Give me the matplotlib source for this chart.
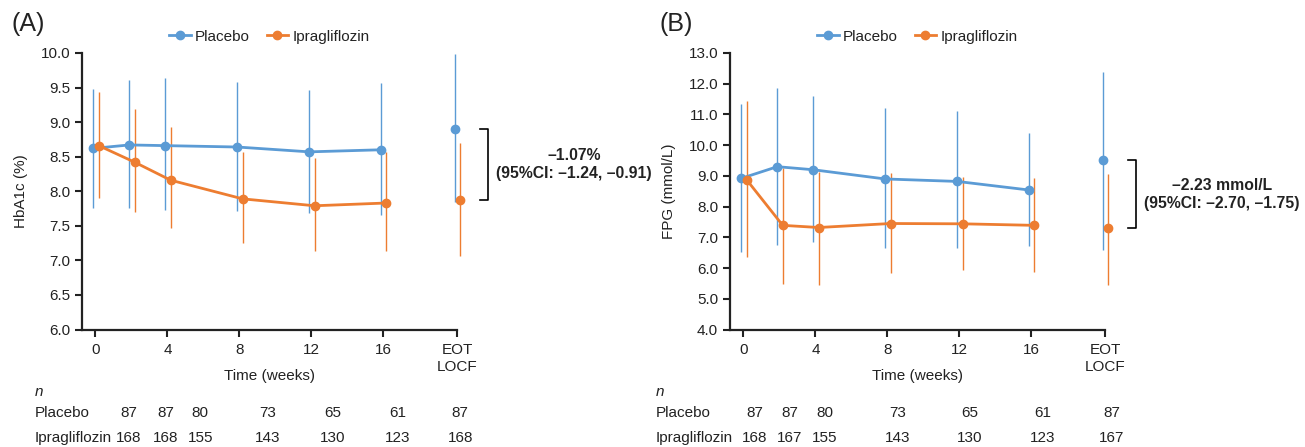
import matplotlib.pyplot as plt
from matplotlib.transforms import blended_transform_factory
import numpy as np

plt.rcParams['font.family'] = ['Liberation Sans', 'DejaVu Sans']

blue = '#5B9BD5'
orange = '#ED7D31'

# time points (EOT/LOCF plotted as an extra category after week 16)
time_labels = ['0', '4', '8', '12', '16', 'EOT\nLOCF']
visit_weeks = [0, 2, 4, 8, 12, 16]

# (A) HbA1c (%)
hba1c_pla = [8.62, 8.67, 8.66, 8.64, 8.57, 8.60, 8.90]
hba1c_pla_lo = [7.76, 7.76, 7.73, 7.72, 7.69, 7.66, 7.84]
hba1c_pla_hi = [9.48, 9.61, 9.64, 9.58, 9.47, 9.57, 9.98]
hba1c_ipr = [8.66, 8.42, 8.16, 7.89, 7.79, 7.83, 7.87]
hba1c_ipr_lo = [7.90, 7.70, 7.47, 7.25, 7.14, 7.14, 7.07]
hba1c_ipr_hi = [9.44, 9.19, 8.93, 8.57, 8.48, 8.57, 8.70]

# (B) FPG (mmol/L)
fpg_pla = [8.92, 9.30, 9.20, 8.90, 8.82, 8.54, 9.51]
fpg_pla_lo = [6.51, 6.76, 6.86, 6.64, 6.64, 6.73, 6.60]
fpg_pla_hi = [11.33, 11.85, 11.59, 11.20, 11.11, 10.39, 12.38]
fpg_ipr = [8.87, 7.39, 7.32, 7.45, 7.44, 7.39, 7.29]
fpg_ipr_lo = [6.35, 5.49, 5.46, 5.83, 5.93, 5.86, 5.46]
fpg_ipr_hi = [11.44, 9.25, 9.14, 9.09, 8.96, 8.93, 9.07]

# n at risk
n_pla_a = [87, 87, 80, 73, 65, 61, 87]
n_ipr_a = [168, 168, 155, 143, 130, 123, 168]
n_pla_b = [87, 87, 80, 73, 65, 61, 87]
n_ipr_b = [168, 167, 155, 143, 130, 123, 167]

diff_a = ['–1.07%', '(95%CI: –1.24, –0.91)']
diff_b = ['–2.23 mmol/L', '(95%CI: –2.70, –1.75)']

EOT_X = 20.1
xpos = np.array(visit_weeks + [EOT_X])
tick_pos = [0, 4, 8, 12, 16, EOT_X]

fig = plt.figure(figsize=(13.05, 4.47), dpi=100)
W, H = 1305, 447
axA = fig.add_axes([82 / W, 117.5 / H, 375 / W, 276.5 / H])
axB = fig.add_axes([730 / W, 117.5 / H, 375 / W, 276.5 / H])


def draw_panel(ax, pla, pla_lo, pla_hi, ipr, ipr_lo, ipr_hi, ylim, yticks, ylabel,
               letter, diff, n_pla, n_ipr, ncols_x, rowlab_x):
    xp = xpos - 0.12
    xi = xpos + 0.18
    ax.vlines(xp, pla_lo, pla_hi, color=blue, lw=1.0, clip_on=False, zorder=2)
    ax.vlines(xi, ipr_lo, ipr_hi, color=orange, lw=1.0, clip_on=False, zorder=2)
    ax.plot(xp[:6], pla[:6], '-o', color=blue, lw=2.0, ms=6, zorder=3,
            label='Placebo', clip_on=False)
    ax.plot(xi[:6], ipr[:6], '-o', color=orange, lw=2.0, ms=6, zorder=3,
            label='Ipragliflozin', clip_on=False)
    ax.plot(xp[6], pla[6], 'o', color=blue, ms=6, zorder=3, clip_on=False)
    ax.plot(xi[6], ipr[6], 'o', color=orange, ms=6, zorder=3, clip_on=False)

    ax.set_xlim(-0.75, EOT_X)
    ax.set_ylim(*ylim)
    ax.set_yticks(yticks)
    ax.set_yticklabels([f'{v:.1f}' for v in yticks])
    ax.set_xticks(tick_pos)
    ax.set_xticklabels(time_labels, linespacing=1.25)
    ax.tick_params(axis='both', labelsize=11, width=1.5, length=5, color='#222222',
                   labelcolor='#222222')
    ax.tick_params(axis='x', pad=5)
    for s in ['top', 'right']:
        ax.spines[s].set_visible(False)
    for s in ['left', 'bottom']:
        ax.spines[s].set_linewidth(1.6)
        ax.spines[s].set_color('#222222')

    ax.set_xlabel('Time (weeks)', fontsize=11, color='#222222')
    ax.xaxis.set_label_coords(0.5, -0.143)
    ax.xaxis.label.set_va('top')
    ax.set_ylabel(ylabel, fontsize=11, color='#222222', labelpad=9)

    ax.legend(loc='lower center', bbox_to_anchor=(0.5, 1.0), ncol=2, frameon=False,
              fontsize=11, handlelength=1.4, handletextpad=0.3, columnspacing=1.1,
              borderaxespad=0.2, labelcolor='#222222')

    ax.text(-0.187, 1.105, letter, transform=ax.transAxes, fontsize=18,
            color='#222222', va='center', ha='left')

    # bracket for treatment difference at EOT
    bx0, bx1 = 21.4, 21.85
    ax.plot([bx0, bx1, bx1, bx0], [pla[6], pla[6], ipr[6], ipr[6]],
            color='black', lw=1.2, clip_on=False)
    ymid = (pla[6] + ipr[6]) / 2
    ax.annotate(diff[0] + '\n' + diff[1], xy=(26.6, ymid), xycoords='data',
                ha='center', va='center', fontsize=11.3, fontweight='bold',
                color='#222222', linespacing=1.25, annotation_clip=False)

    # n table below the axis
    tr = blended_transform_factory(ax.transData, fig.transFigure)
    ax.text(rowlab_x, 1 - 392 / H, 'n', transform=tr, fontsize=11,
            style='italic', ha='left', va='center', color='#222222')
    ax.text(rowlab_x, 1 - 413 / H, 'Placebo', transform=tr, fontsize=11,
            ha='left', va='center', color='#222222')
    ax.text(rowlab_x, 1 - 438 / H, 'Ipragliflozin', transform=tr, fontsize=11,
            ha='left', va='center', color='#222222')
    for cx, a, b in zip(ncols_x, n_pla, n_ipr):
        ax.text(cx, 1 - 413 / H, str(a), transform=tr, fontsize=11,
                ha='center', va='center', color='#222222')
        ax.text(cx, 1 - 438 / H, str(b), transform=tr, fontsize=11,
                ha='center', va='center', color='#222222')


draw_panel(axA, hba1c_pla, hba1c_pla_lo, hba1c_pla_hi, hba1c_ipr, hba1c_ipr_lo,
           hba1c_ipr_hi, (6.0, 10.0), np.arange(6.0, 10.01, 0.5), 'HbA1c (%)', '(A)',
           diff_a, n_pla_a, n_ipr_a,
           [1.83, 3.89, 5.83, 9.56, 13.17, 16.78, 20.28], -3.39)
draw_panel(axB, fpg_pla, fpg_pla_lo, fpg_pla_hi, fpg_ipr, fpg_ipr_lo,
           fpg_ipr_hi, (4.0, 13.0), np.arange(4.0, 13.01, 1.0), 'FPG (mmol/L)', '(B)',
           diff_b, n_pla_b, n_ipr_b,
           [0.63, 2.57, 4.5, 8.57, 12.57, 16.63, 20.46], -4.87)

fig.savefig('out.png', dpi=100)
